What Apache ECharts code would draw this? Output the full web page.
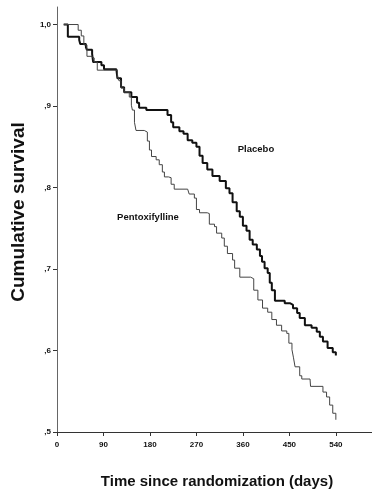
<!DOCTYPE html>
<html>
<head>
<meta charset="utf-8">
<script src="https://cdn.jsdelivr.net/npm/echarts@6/dist/echarts.min.js"></script>
<style>
  html, body { margin: 0; padding: 0; background: #fff; }
  #chart { width: 372px; height: 494px; }
</style>
</head>
<body>
<div id="chart"></div>
<script>
// Kaplan-Meier curves (day, cumulative survival)
const placeboDays = [13, 21, 43, 45, 56, 58, 68, 70, 86, 91, 115, 117, 124, 130, 144, 155, 159, 173, 214, 221,
  225, 237, 245, 253, 262, 270, 276, 282, 291, 301, 315, 327, 334, 340, 348, 354, 360, 367, 373, 379,
  387, 393, 397, 402, 408, 412, 416, 422, 441, 451, 457, 465, 470, 480, 493, 503, 509, 515, 524, 534, 540];
const placeboSurv = [1.0, 0.985, 0.981, 0.976, 0.972, 0.969, 0.964, 0.954, 0.950, 0.945, 0.944, 0.934, 0.923, 0.917, 0.911, 0.904, 0.898, 0.895, 0.889, 0.880,
  0.874, 0.869, 0.866, 0.858, 0.855, 0.850, 0.839, 0.830, 0.822, 0.814, 0.808, 0.799, 0.793, 0.782, 0.771, 0.764, 0.753, 0.747, 0.736, 0.730,
  0.724, 0.716, 0.709, 0.701, 0.695, 0.683, 0.674, 0.661, 0.658, 0.656, 0.652, 0.646, 0.640, 0.631, 0.628, 0.623, 0.617, 0.611, 0.603, 0.598, 0.594];

const pentoxDays = [13, 41, 47, 52, 58, 66, 72, 78, 117, 120, 124, 130, 140, 144, 146, 150, 153, 169, 175, 179,
  183, 192, 198, 204, 208, 216, 221, 227, 253, 256, 266, 270, 276, 291, 295, 305, 309, 319, 324, 330,
  340, 344, 354, 375, 381, 389, 398, 408, 416, 425, 435, 445, 449, 455, 458, 461, 470, 474, 490, 491,
  515, 522, 528, 534, 540];
const pentoxSurv = [1.0, 0.993, 0.986, 0.975, 0.961, 0.959, 0.954, 0.944, 0.937, 0.931, 0.922, 0.917, 0.911, 0.901, 0.895, 0.880, 0.870, 0.868, 0.857, 0.846,
  0.838, 0.834, 0.828, 0.819, 0.813, 0.812, 0.804, 0.798, 0.797, 0.792, 0.787, 0.773, 0.769, 0.768, 0.755, 0.752, 0.744, 0.738, 0.728, 0.719,
  0.711, 0.701, 0.690, 0.688, 0.674, 0.662, 0.652, 0.647, 0.638, 0.631, 0.624, 0.621, 0.609, 0.601, 0.591, 0.580, 0.569, 0.565, 0.563, 0.556,
  0.549, 0.543, 0.533, 0.523, 0.515];

const xTicks = [0, 90, 180, 270, 360, 450, 540];
const yTicks = [0.5, 0.6, 0.7, 0.8, 0.9, 1.0];
const yTickLabels = [',5', ',6', ',7', ',8', ',9', '1,0'];

const chart = echarts.init(document.getElementById('chart'));

const tickFont = {
  fontFamily: 'Liberation Sans, Arial, sans-serif',
  fontSize: 8,
  fontWeight: 'bold',
  color: '#111'
};

const option = {
  animation: false,
  backgroundColor: '#fff',
  grid: { left: 57, right: 0, top: 7, bottom: 62 },
  xAxis: {
    type: 'value',
    min: 0,
    max: 610,
    axisLine: { lineStyle: { color: '#333', width: 1 } },
    axisTick: { customValues: xTicks, length: 4, lineStyle: { color: '#333' } },
    axisLabel: Object.assign({ customValues: xTicks, margin: 9 }, tickFont),
    splitLine: { show: false }
  },
  yAxis: {
    type: 'value',
    min: 0.5,
    max: 1.0215,
    axisLine: { show: true, lineStyle: { color: '#666', width: 1 } },
    axisTick: { show: true, customValues: yTicks, length: 4, lineStyle: { color: '#333' } },
    axisLabel: Object.assign({
      customValues: yTicks,
      margin: 6,
      formatter: function (value) {
        const i = yTicks.findIndex(v => Math.abs(v - value) < 1e-6);
        return i >= 0 ? yTickLabels[i] : '';
      }
    }, tickFont),
    splitLine: { show: false }
  },
  series: [
    {
      name: 'Placebo',
      type: 'line',
      step: 'end',
      symbol: 'none',
      data: placeboDays.map((d, i) => [d, placeboSurv[i]]),
      lineStyle: { color: '#111', width: 2 }
    },
    {
      name: 'Pentoxifylline',
      type: 'line',
      step: 'end',
      symbol: 'none',
      data: pentoxDays.map((d, i) => [d, pentoxSurv[i]]),
      lineStyle: { color: '#444', width: 1 }
    }
  ],
  graphic: [
    {
      type: 'text', x: 256, y: 149,
      style: { text: 'Placebo', font: 'bold 9.5px "Liberation Sans", Arial, sans-serif', fill: '#111', align: 'center', verticalAlign: 'middle' }
    },
    {
      type: 'text', x: 148, y: 217,
      style: { text: 'Pentoxifylline', font: 'bold 9.5px "Liberation Sans", Arial, sans-serif', fill: '#111', align: 'center', verticalAlign: 'middle' }
    },
    {
      type: 'text', x: 19, y: 212, rotation: Math.PI / 2,
      style: { text: 'Cumulative survival', font: 'bold 19px "Liberation Sans", Arial, sans-serif', fill: '#111', align: 'center', verticalAlign: 'middle' }
    },
    {
      type: 'text', x: 217, y: 482,
      style: { text: 'Time since randomization (days)', font: 'bold 15px "Liberation Sans", Arial, sans-serif', fill: '#111', align: 'center', verticalAlign: 'middle' }
    }
  ]
};

chart.setOption(option);
</script>
</body>
</html>
